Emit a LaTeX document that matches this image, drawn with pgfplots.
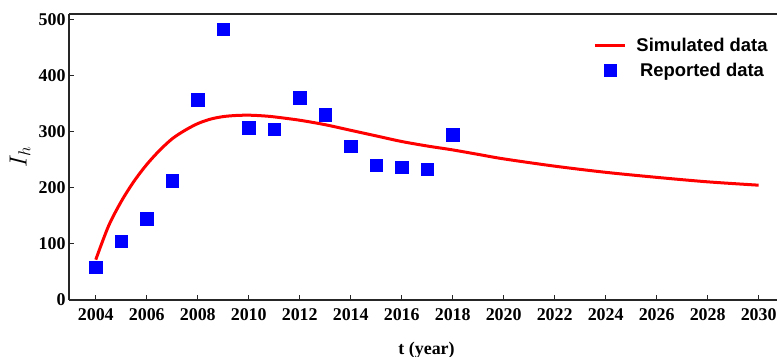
\documentclass[border=0pt]{standalone}
\usepackage{pgfplots}
\pgfplotsset{compat=1.18}
\usepackage{fontspec}
\setmainfont{Liberation Serif}
\newfontfamily\legendfont{Liberation Sans}
\usetikzlibrary{calc}
\begin{document}
\begin{tikzpicture}
\begin{axis}[
  width=708bp, height=286bp, scale only axis,
  xmin=2002.95, xmax=2030.72, ymin=0, ymax=510.7,
  axis x line*=bottom, axis y line*=left,
  axis line style={line width=1.3bp, color=black!85},
  tick align=inside, major tick length=5bp,
  tick style={line width=1bp, color=black!85},
  xtick={2004,2006,...,2030}, ytick={0,100,...,500},
  /pgf/number format/1000 sep={},
  /pgf/number format/assume math mode=true,
  tick label style={font=\fontsize{18}{20}\selectfont\bfseries},
  xticklabel style={yshift=-5bp},
  xlabel={\textbf{t (year)}},
  xlabel style={font=\fontsize{18}{20}\selectfont,
    at={(axis description cs:0.505,0)}, anchor=base, yshift=-54bp},
  ylabel={$I_h$},
  ylabel style={font=\fontsize{24}{26}\selectfont,
    at={(axis description cs:-0.0692,0.5)}, anchor=center},
  clip=false,
  legend style={draw=none, fill=none,
    at={(axis description cs:0.994,0.93)}, anchor=north east,
    font=\legendfont\bfseries\fontsize{18.5}{22}\selectfont,
    row sep=6bp, column sep=8bp},
  legend cell align=center,
  legend image code/.code={\draw[mark repeat=2,mark phase=2,#1]
    plot coordinates {(0bp,0bp) (15bp,0bp) (30bp,0bp)};},
]
% model output
\addplot[red, line width=3bp, smooth, no marks] coordinates {
  (2004,72) (2004.5,132) (2005,176) (2005.5,212) (2006,242)
  (2006.5,267) (2007,288) (2007.5,303) (2008,315) (2008.5,323)
  (2009,327.5) (2009.5,329.5) (2010,330) (2010.5,329) (2011,327)
  (2012,321) (2013,313) (2014,303) (2015,293) (2016,283)
  (2017,275) (2018,268) (2019,260) (2020,252) (2022,239)
  (2024,228) (2026,219) (2028,211) (2030,205)
};
\addlegendentry{Simulated data}
% observed cases
\addplot[only marks, mark=square*, mark size=6.2bp,
  mark options={draw=blue, fill=blue}] coordinates {
  (2004,59) (2005,105) (2006,145) (2007,213) (2008,358)
  (2009,484) (2010,308) (2011,305) (2012,361) (2013,331)
  (2014,275) (2015,241) (2016,237) (2017,234) (2018,295)
};
\addlegendentry{Reported data}
\draw[line width=1.3bp, black!85] (rel axis cs:0,1) -- (rel axis cs:1,1);
\coordinate (sw) at (rel axis cs:0,0);
\coordinate (ne) at (rel axis cs:1,1);
\end{axis}
\pgfresetboundingbox
\useasboundingbox ($(sw)+(-69bp,-57bp)$) rectangle ($(ne)+(0bp,14bp)$);
\end{tikzpicture}
\end{document}
